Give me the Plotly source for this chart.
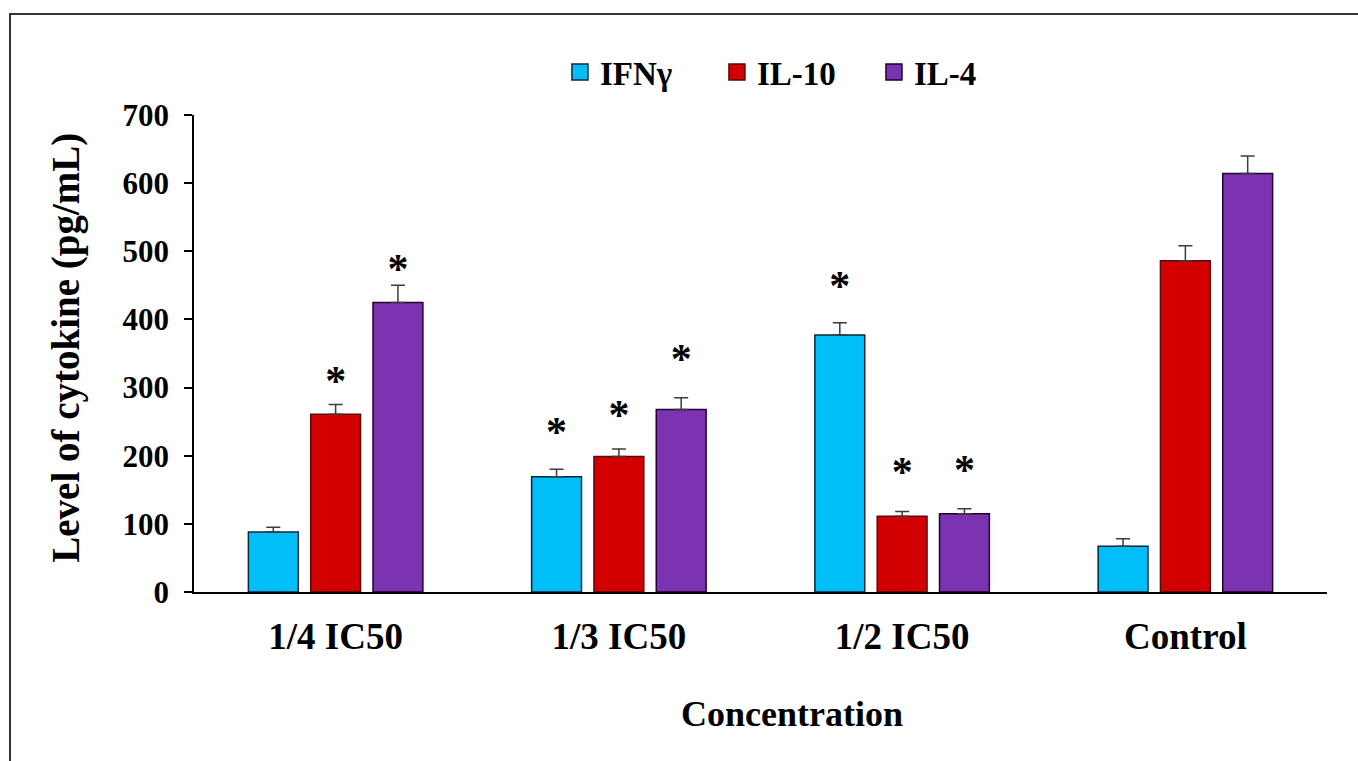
import plotly.graph_objects as go

# Cytokine levels (pg/mL) per concentration, mean with upper SD
categories = ["1/4 IC50", "1/3 IC50", "1/2 IC50", "Control"]
series_names = ["IFNγ", "IL-10", "IL-4"]

ifng = [88, 169, 377, 67]
il10 = [261, 199, 111, 486]
il4 = [425, 268, 115, 614]

ifng_err = [7, 11, 18, 11]
il10_err = [14, 11, 7, 22]
il4_err = [25, 17, 7, 26]

# Height of the significance asterisk over each bar (None = not significant)
ifng_sig = [None, 242, 456, None]
il10_sig = [316, 266, 182, None]
il4_sig = [480, 348, 186, None]

values = [ifng, il10, il4]
errors = [ifng_err, il10_err, il4_err]
sig_levels = [ifng_sig, il10_sig, il4_sig]

fills = ["#00BEF8", "#D20000", "#7B33B2"]
edges = ["#0B2740", "#5A0A0A", "#22002E"]

FONT = "Liberation Serif"
BARGAP = 0.34
Y_MAX = 700
PLOT_H = 477  # plot area height in px

# the "*" glyph sits high in its text box; drop it by a few pixels
STAR_DROP_PX = 8
star_drop = STAR_DROP_PX * Y_MAX / PLOT_H

fig = go.Figure()

for i, name in enumerate(series_names):
    fig.add_trace(go.Bar(
        x=categories,
        y=values[i],
        name=name,
        offsetgroup=str(i),
        showlegend=False,
        marker=dict(color=fills[i], line=dict(color=edges[i], width=1.5)),
        error_y=dict(
            type="data",
            symmetric=False,
            array=errors[i],
            arrayminus=[0] * len(categories),
            color="#3C3C3C",
            thickness=1.5,
            width=7,
        ),
    ))

# asterisks above significant bars, aligned with their bar via offsetgroup
for i, name in enumerate(series_names):
    fig.add_trace(go.Scatter(
        x=categories,
        y=[None if v is None else v - star_drop for v in sig_levels[i]],
        mode="text",
        text=["*" if v is not None else "" for v in sig_levels[i]],
        textposition="middle center",
        textfont=dict(family=FONT, size=42, color="black", weight=700),
        offsetgroup=str(i),
        showlegend=False,
        hoverinfo="skip",
    ))

# legend entries with larger square swatches
for i, name in enumerate(series_names):
    fig.add_trace(go.Scatter(
        x=[None],
        y=[None],
        mode="markers",
        name=name,
        offsetgroup=str(i),
        marker=dict(symbol="square", size=16, color=fills[i],
                    line=dict(color=edges[i], width=1.5)),
    ))

fig.update_layout(
    width=1358,
    height=761,
    margin=dict(l=194, r=31, t=115, b=169),
    paper_bgcolor="white",
    plot_bgcolor="white",
    barmode="group",
    bargap=BARGAP,
    bargroupgap=0.2,
    scattermode="group",
    scattergap=BARGAP,
    font=dict(family=FONT, color="black"),
    legend=dict(
        orientation="h",
        x=0.323,
        xanchor="left",
        y=1.09,
        yanchor="middle",
        entrywidth=112,
        entrywidthmode="pixels",
        font=dict(family=FONT, size=33, color="black", weight=700),
        bgcolor="rgba(0,0,0,0)",
        itemclick=False,
    ),
    showlegend=True,
)

fig.update_yaxes(
    range=[0, Y_MAX],
    dtick=100,
    showgrid=False,
    zeroline=False,
    showline=True,
    linecolor="black",
    linewidth=1.5,
    ticks="outside",
    ticklen=8,
    tickwidth=1.5,
    tickcolor="black",
    ticklabelstandoff=9,
    tickfont=dict(family=FONT, size=31, color="black", weight=700),
)

fig.update_xaxes(
    showgrid=False,
    zeroline=False,
    showline=True,
    linecolor="black",
    linewidth=1.5,
    ticks="",
    ticklabelstandoff=11,
    tickfont=dict(family=FONT, size=37, color="black", weight=700),
)

# axis titles
fig.add_annotation(
    text="Concentration", xref="paper", yref="paper",
    x=0.528, y=-0.255, xanchor="center", yanchor="middle", showarrow=False,
    font=dict(family=FONT, size=36, color="black", weight=700),
)
fig.add_annotation(
    text="Level of cytokine (pg/mL)", xref="paper", yref="paper",
    x=-0.113, y=0.512, xanchor="center", yanchor="middle", showarrow=False,
    textangle=-90,
    font=dict(family=FONT, size=39, color="black", weight=700),
)

# frame around the figure
fig.add_shape(
    type="rect", xref="paper", yref="paper",
    x0=-0.1624, x1=1.3, y0=-0.6, y1=1.2117,
    line=dict(color="#333333", width=2),
    fillcolor="rgba(0,0,0,0)",
    layer="below",
)

fig.write_html("out.html")
